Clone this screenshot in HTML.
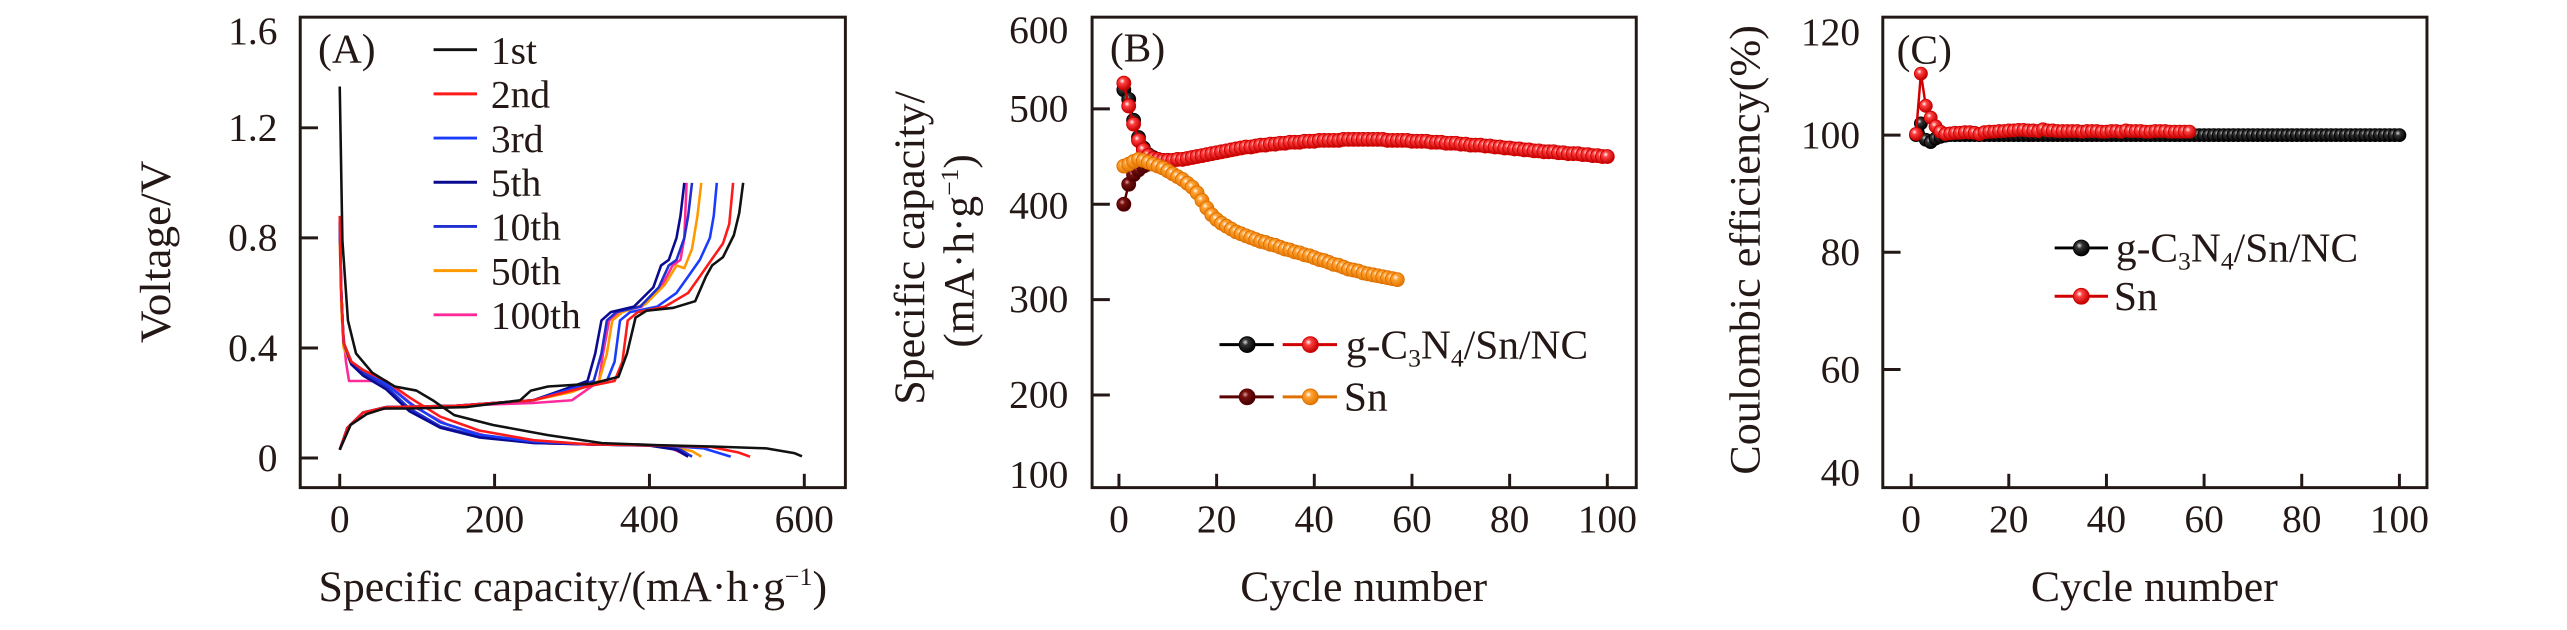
<!DOCTYPE html>
<html><head><meta charset="utf-8"><title>Battery performance charts</title>
<style>
html,body{margin:0;padding:0;background:#fff;}
svg{display:block;font-family:"Liberation Serif","Times New Roman",serif;}
</style></head>
<body>
<svg id="fig" width="2567" height="630" viewBox="0 0 2567 630" xmlns="http://www.w3.org/2000/svg">
<defs>
<radialGradient id="gRed" cx="0.38" cy="0.35" r="0.65"><stop offset="0" stop-color="#fff"/><stop offset="0.3" stop-color="#ff4040"/><stop offset="1" stop-color="#c00000"/></radialGradient>
<radialGradient id="gBlack" cx="0.38" cy="0.35" r="0.65"><stop offset="0" stop-color="#ddd"/><stop offset="0.3" stop-color="#333"/><stop offset="1" stop-color="#000"/></radialGradient>
<radialGradient id="gOrange" cx="0.38" cy="0.35" r="0.65"><stop offset="0" stop-color="#fff"/><stop offset="0.3" stop-color="#ffa030"/><stop offset="1" stop-color="#e07800"/></radialGradient>
<radialGradient id="gDark" cx="0.38" cy="0.35" r="0.65"><stop offset="0" stop-color="#e0a0a0"/><stop offset="0.3" stop-color="#7a1010"/><stop offset="1" stop-color="#400000"/></radialGradient>
</defs>
</svg>
<script>
// ---------- Panel A data: [capacity, voltage] ----------
const cycleLabels = ["1st","2nd","3rd","5th","10th","50th","100th"];
const cycleColors = ["#111111","#ff1a1a","#1a3cff","#0a0a90","#2030d0","#ff9900","#ff2a9a"];
const dis1st = [[0,1.35],[3.5,0.79],[10.6,0.5],[21,0.38],[42,0.31],[71,0.26],[99,0.245],[120,0.21],[148,0.156],[198,0.12],[269,0.083],[339,0.054],[410,0.047],[481,0.042],[551,0.035],[587,0.018],[597,0.006]];
const chg1st = [[0,0.03],[14,0.12],[35,0.16],[57,0.18],[92,0.18],[163,0.185],[233,0.21],[247,0.245],[269,0.26],[325,0.27],[360,0.295],[371,0.38],[382,0.51],[396,0.535],[431,0.546],[459,0.57],[473,0.66],[481,0.7],[495,0.73],[509,0.81],[516,0.89],[521,1.0]];
const dis2nd = [[0,0.88],[2,0.6],[5,0.42],[15,0.35],[30,0.32],[60,0.28],[90,0.22],[130,0.15],[180,0.10],[250,0.065],[320,0.05],[420,0.045],[480,0.04],[515,0.02],[530,0.005]];
const chg2nd = [[0,0.03],[10,0.11],[30,0.165],[60,0.185],[150,0.19],[250,0.21],[320,0.26],[355,0.28],[365,0.35],[372,0.5],[385,0.53],[420,0.55],[450,0.6],[465,0.66],[480,0.72],[495,0.78],[503,0.85],[508,1.0]];
const dis3rd = [[0,0.86],[2,0.6],[5,0.42],[15,0.35],[30,0.32],[60,0.27],[90,0.2],[130,0.13],[180,0.085],[250,0.06],[320,0.05],[420,0.045],[470,0.035],[505,0.005]];
const chg3rd = [[0,0.03],[10,0.11],[30,0.165],[60,0.185],[150,0.19],[250,0.21],[310,0.26],[345,0.28],[355,0.35],[362,0.5],[375,0.53],[410,0.55],[435,0.6],[450,0.66],[465,0.72],[478,0.8],[483,0.88],[487,1.0]];
const dis5th = [[0,0.85],[2,0.6],[5,0.42],[15,0.34],[30,0.3],[60,0.25],[90,0.17],[130,0.11],[180,0.075],[250,0.055],[320,0.05],[400,0.045],[435,0.03],[450,0.005]];
const chg5th = [[0,0.03],[10,0.11],[30,0.165],[60,0.185],[150,0.19],[250,0.21],[290,0.25],[320,0.28],[330,0.38],[338,0.5],[350,0.53],[380,0.55],[405,0.62],[415,0.7],[425,0.72],[435,0.8],[440,0.88],[445,1.0]];
const dis10th = [[0,0.86],[2,0.6],[5,0.42],[15,0.34],[30,0.31],[60,0.26],[90,0.18],[130,0.115],[180,0.078],[250,0.056],[320,0.05],[410,0.045],[440,0.03],[455,0.005]];
const chg10th = [[0,0.03],[10,0.11],[30,0.165],[60,0.185],[150,0.19],[250,0.21],[295,0.25],[328,0.28],[338,0.38],[345,0.5],[357,0.53],[388,0.55],[412,0.62],[425,0.7],[435,0.72],[445,0.8],[450,0.88],[455,1.0]];
const dis50th = [[0,0.8],[2,0.55],[5,0.4],[15,0.34],[30,0.31],[60,0.27],[90,0.2],[130,0.13],[180,0.085],[250,0.06],[320,0.05],[420,0.045],[455,0.025],[467,0.005]];
const chg50th = [[0,0.03],[10,0.11],[30,0.165],[60,0.185],[150,0.19],[250,0.21],[300,0.24],[335,0.28],[345,0.38],[352,0.5],[365,0.53],[395,0.56],[420,0.63],[435,0.7],[445,0.69],[455,0.76],[462,0.88],[467,1.0]];
const dis100th = [[0,0.8],[3,0.5],[8,0.35],[12,0.28],[50,0.28],[70,0.25],[100,0.18],[140,0.12],[190,0.08],[250,0.055],[320,0.05],[420,0.045],[440,0.02],[450,0.005]];
const chg100th = [[0,0.03],[10,0.11],[30,0.165],[60,0.18],[150,0.19],[250,0.2],[300,0.21],[320,0.25],[335,0.28],[340,0.38],[348,0.5],[360,0.53],[390,0.55],[415,0.62],[430,0.7],[440,0.72],[445,0.8],[448,1.0]];
const curvesA = [[dis1st,chg1st],[dis2nd,chg2nd],[dis3rd,chg3rd],[dis5th,chg5th],[dis10th,chg10th],[dis50th,chg50th],[dis100th,chg100th]];
const ticksAx = [0,200,400,600];
const ticksAy = [0,0.4,0.8,1.2,1.6];
const tickLabelsAy = ["0","0.4","0.8","1.2","1.6"];

// ---------- Panel B data ----------
const capCN = [527,503,484,467,457,451,448,447,446,446,446,447,447,448,449,450,451,452,453,454,455,456,457,458,459,460,460,461,462,462,463,463,464,464,465,465,465,466,466,466,467,467,467,467,467,468,468,468,468,468,468,468,468,468,467,467,467,467,467,466,466,466,466,465,465,465,464,464,464,463,463,462,462,462,461,461,460,460,459,459,458,458,457,457,456,456,455,455,455,454,454,453,453,453,452,452,451,451,450,450];
const capCNblack = [520,510,488,470,459,452,449,447,446,446];
const capSn = [440,442,445,447,446,444,442,440,438,435,432,429,426,422,418,412,404,396,389,384,380,377,374,371,369,367,365,363,361,360,358,357,355,353,352,350,349,347,346,344,342,341,339,337,336,334,332,331,330,328,327,326,325,324,323,322,321];
const capSnDark = [400,421,431,436,440,442];
const ticksBx = [0,20,40,60,80,100];

// ---------- Panel C data ----------
const ceCN = [100,102,99.2,98.8,99.4,99.7,99.9,100,100,100,100,100,100,100,100,100,100,100,100,100,100,100,100,100,100,100,100,100,100,100,100,100,100,100,100,100,100,100,100,100,100,100,100,100,100,100,100,100,100,100,100,100,100,100,100,100,100,100,100,100,100,100,100,100,100,100,100,100,100,100,100,100,100,100,100,100,100,100,100,100,100,100,100,100,100,100,100,100,100,100,100,100,100,100,100,100,100,100,100,100];
const ceSn = [100.2,110.5,105,103,101.5,100.6,100.2,100.3,100.4,100.4,100.5,100.5,100.4,100.2,100.5,100.6,100.6,100.7,100.7,100.8,100.8,100.9,100.9,100.8,100.8,100.7,101,100.8,100.8,100.7,100.7,100.7,100.7,100.7,100.6,100.7,100.7,100.7,100.6,100.6,100.7,100.7,100.6,100.8,100.7,100.7,100.7,100.6,100.6,100.7,100.7,100.7,100.6,100.6,100.6,100.6,100.6];
const ticksCy = [40,60,80,100,120];

const NS = "http://www.w3.org/2000/svg";
const svg = document.getElementById("fig");
let cur = svg;
function mk(tag, attrs, parent){ const e=document.createElementNS(NS,tag); for(const k in attrs) e.setAttribute(k,attrs[k]); (parent||cur).appendChild(e); return e; }
function txt(str, attrs, parent){ const e=mk("text",attrs,parent); e.textContent=str; return e; }
function panelGroup(off,name){
  const g=document.createElementNS(NS,"g");
  g.setAttribute("transform","translate("+off+",-0.6) scale(0.9876,0.9863) translate("+(-off)+",0)");
  
  
  svg.appendChild(g);
  return g;
}

// ===== Panel A =====
cur = panelGroup(0,'panel-a');
const axA = v => 344 + v*0.784;
const ayA = v => 465 - v*279;
const gA = mk("g",{});


for (let i=curvesA.length-1;i>=0;i--){
  for (const seg of curvesA[i]){
    const p = mk("path",{d:"M"+seg.map(q=>axA(q[0]).toFixed(1)+","+ayA(q[1]).toFixed(1)).join("L"),fill:"none",stroke:cycleColors[i],"stroke-width":2.6,"stroke-linejoin":"round"},gA);
    
    
  }
}
const frA = mk("rect",{x:304,y:18,width:552,height:477,fill:"none",stroke:"#231815","stroke-width":3});


ticksAx.forEach(v=>{
  mk("line",{x1:axA(v),x2:axA(v),y1:495,y2:481,stroke:"#231815","stroke-width":3});
  const t=txt(String(v),{x:axA(v),y:540,"font-size":40,"text-anchor":"middle",fill:"#231815"});
  
  
});
ticksAy.forEach((v,i)=>{
  if(i<4) mk("line",{x1:304,x2:322,y1:ayA(v),y2:ayA(v),stroke:"#231815","stroke-width":3});
  const t=txt(tickLabelsAy[i],{x:281,y:Math.max(ayA(v),32)+13,"font-size":40,"text-anchor":"end",fill:"#231815"});
  
  
});
let t;
t=txt("(A)",{x:322,y:64,"font-size":42,fill:"#231815"});


t=txt("Voltage/V",{transform:"translate(172,256) rotate(-90)","font-size":44,"text-anchor":"middle",fill:"#231815",textLength:185,lengthAdjust:"spacingAndGlyphs"});


t=mk("text",{x:580,y:610,"font-size":44,"text-anchor":"middle",fill:"#231815",textLength:515,lengthAdjust:"spacingAndGlyphs"});
t.innerHTML='Specific capacity/(mA·h·g<tspan dy="-16" font-size="26">−1</tspan><tspan dy="16">)</tspan>';


cycleLabels.forEach((lab,i)=>{
  const y=51+i*44.8;
  const l=mk("line",{x1:439,x2:483,y1:y,y2:y,stroke:cycleColors[i],"stroke-width":3});
  
  
  const tt=txt(lab,{x:497,y:y+14,"font-size":40,fill:"#231815"});
  
  
});

// ===== Panel B =====
cur = panelGroup(860,'panel-b');
const axB = c => 1122.2 + c*4.945;
const ayB = v => 304.4 - (v-300)*0.967;
function series(vals, ax, ay, grad, stroke, r, name){
  const g=mk("g",{});
  
  
  mk("path",{d:"M"+vals.map((v,i)=>ax(i+1).toFixed(1)+","+ay(v).toFixed(1)).join("L"),fill:"none",stroke:stroke,"stroke-width":2.5},g);
  vals.forEach((v,i)=>{
    const c=mk("circle",{cx:ax(i+1),cy:ay(v),r:r,fill:"url(#"+grad+")",stroke:stroke,"stroke-width":1},g);
    
    
  });
}
series(capCNblack,axB,ayB,"gBlack","#000","7","series-cn-discharge");
series(capSnDark,axB,ayB,"gDark","#5a0000","7","series-sn-discharge");
series(capCN,axB,ayB,"gRed","#d00000","7","series-cn-capacity");
series(capSn,axB,ayB,"gOrange","#e07000","7","series-sn-capacity");
const frB = mk("rect",{x:1095,y:18,width:551,height:477,fill:"none",stroke:"#231815","stroke-width":3});


ticksBx.forEach(v=>{
  mk("line",{x1:axB(v),x2:axB(v),y1:495,y2:481,stroke:"#231815","stroke-width":3});
  const tt=txt(String(v),{x:axB(v),y:540,"font-size":40,"text-anchor":"middle",fill:"#231815"});
  
  
});
const ticksBy = [100,200,300,400,500,600];
const tickBLabelY = [482,401,304,209,111,31];
ticksBy.forEach((v,i)=>{
  if(v>=200&&v<=500) mk("line",{x1:1095,x2:1113,y1:ayB(v),y2:ayB(v),stroke:"#231815","stroke-width":3});
  const tt=txt(String(v),{x:1071,y:tickBLabelY[i]+13,"font-size":40,"text-anchor":"end",fill:"#231815"});
  
  
});
t=txt("(B)",{x:1113,y:63,"font-size":42,fill:"#231815"});


t=txt("Specific capacity/",{transform:"translate(925,252) rotate(-90)","font-size":44,"text-anchor":"middle",fill:"#231815",textLength:318,lengthAdjust:"spacingAndGlyphs"});


t=mk("text",{transform:"translate(975,255) rotate(-90)","font-size":44,"text-anchor":"middle",fill:"#231815"});
t.innerHTML='(mA·h·g<tspan dy="-16" font-size="26">−1</tspan><tspan dy="16">)</tspan>';


t=txt("Cycle number",{x:1370,y:610,"font-size":44,"text-anchor":"middle",fill:"#231815",textLength:250,lengthAdjust:"spacingAndGlyphs"});


function legMarker(x1,x2,cx,y,grad,stroke,name){
  const g=mk("g",{});
  
  
  mk("line",{x1:x1,x2:x2,y1:y,y2:y,stroke:stroke,"stroke-width":3},g);
  mk("circle",{cx:cx,cy:y,r:8,fill:"url(#"+grad+")",stroke:stroke,"stroke-width":1},g);
}
legMarker(1224,1279,1252,350,"gBlack","#000","legend-marker-cn-black");
legMarker(1288,1343,1316,350,"gRed","#d00000","legend-marker-cn-red");
legMarker(1224,1279,1252,403,"gDark","#5a0000","legend-marker-sn-dark");
legMarker(1288,1343,1316,403,"gOrange","#e07000","legend-marker-sn-orange");
t=mk("text",{x:1352,y:364,"font-size":42,fill:"#231815"});
t.innerHTML='g-C<tspan font-size="26" dy="8">3</tspan><tspan dy="-8">N</tspan><tspan font-size="26" dy="8">4</tspan><tspan dy="-8">/Sn/NC</tspan>';


t=txt("Sn",{x:1350,y:417,"font-size":42,fill:"#231815"});



// ===== Panel C =====
cur = panelGroup(1707,'panel-c');
const axC = c => 1913.7 + c*4.944;
const ayC = v => 137.6 - (v-100)*5.94;
series(ceCN,axC,ayC,"gBlack","#000","6.5","series-cn-efficiency");
series(ceSn,axC,ayC,"gRed","#d00000","6.5","series-sn-efficiency");
const frC = mk("rect",{x:1885,y:18,width:551,height:477,fill:"none",stroke:"#231815","stroke-width":3});


ticksBx.forEach(v=>{
  mk("line",{x1:axC(v),x2:axC(v),y1:495,y2:481,stroke:"#231815","stroke-width":3});
  const tt=txt(String(v),{x:axC(v),y:540,"font-size":40,"text-anchor":"middle",fill:"#231815"});
  
  
});
ticksCy.forEach(v=>{
  if(v>40&&v<120) mk("line",{x1:1885,x2:1903,y1:ayC(v),y2:ayC(v),stroke:"#231815","stroke-width":3});
  const yy=Math.min(Math.max(ayC(v),33),480);
  const tt=txt(String(v),{x:1862,y:yy+13,"font-size":40,"text-anchor":"end",fill:"#231815"});
  
  
});
t=txt("(C)",{x:1899,y:65,"font-size":42,fill:"#231815"});


t=txt("Coulombic efficiency(%)",{transform:"translate(1760,254) rotate(-90)","font-size":44,"text-anchor":"middle",fill:"#231815",textLength:456,lengthAdjust:"spacingAndGlyphs"});


t=txt("Cycle number",{x:2160,y:610,"font-size":44,"text-anchor":"middle",fill:"#231815",textLength:250,lengthAdjust:"spacingAndGlyphs"});


legMarker(2059,2113,2086,252,"gBlack","#000","legend-marker-cn-c");
legMarker(2059,2113,2086,301,"gRed","#d00000","legend-marker-sn-c");
t=mk("text",{x:2121,y:266,"font-size":42,fill:"#231815"});
t.innerHTML='g-C<tspan font-size="26" dy="8">3</tspan><tspan dy="-8">N</tspan><tspan font-size="26" dy="8">4</tspan><tspan dy="-8">/Sn/NC</tspan>';


t=txt("Sn",{x:2119,y:315,"font-size":42,fill:"#231815"});


</script>
</body></html>
